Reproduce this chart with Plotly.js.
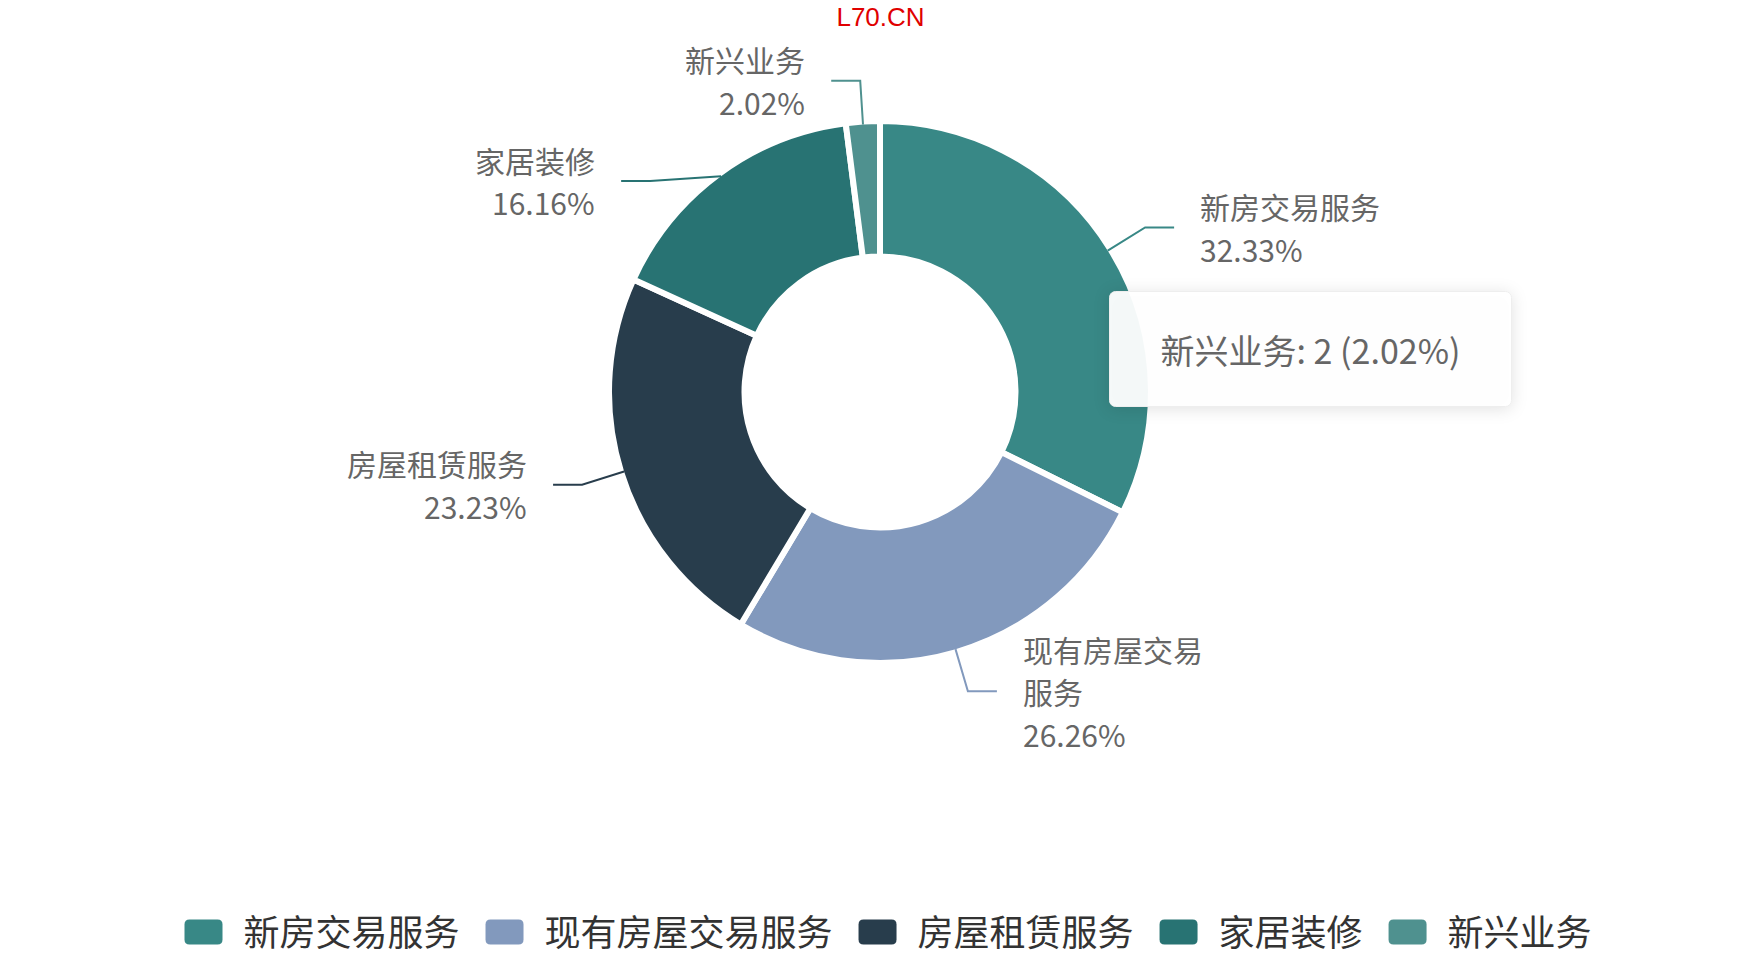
<!DOCTYPE html>
<html>
<head>
<meta charset="utf-8">
<script src="https://cdn.plot.ly/plotly-3.0.1.min.js"></script>
<style>
  html, body { margin: 0; padding: 0; background: #ffffff; }
  #chart { width: 1761px; height: 966px; }
</style>
</head>
<body>
<div id="chart"></div>
<script>
// ---- data ----
const categories = ['新房交易服务', '现有房屋交易服务', '房屋租赁服务', '家居装修', '新兴业务'];
const values = [32, 26, 23, 16, 2];
const colors = ['#388886', '#8299bd', '#283d4c', '#287373', '#4f918f'];
const titleText = 'L70.CN';
const tooltipIndex = 4;

// ---- layout constants ----
const W = 1761, H = 966;
const CX = 880, CY = 392;          // pie centre (px)
const R = 271;                      // pie radius incl. white border
const VIS_R = 268;                  // visible outer radius
const L1 = 44, L2 = 29, GAP = 24;   // leader line lengths / text gap
const LINEH = 42.7, PAD = 15, FS = 30;
const MAXCH = 6;

// percentages with largest-remainder rounding (sum = 100%)
function percents(vals, precision) {
  const sum = vals.reduce((a, b) => a + b, 0);
  const digits = Math.pow(10, precision);
  const quotas = vals.map(v => v / sum * digits * 100);
  const seats = quotas.map(q => Math.floor(q));
  let cur = seats.reduce((a, b) => a + b, 0);
  const rem = quotas.map((q, i) => q - seats[i]);
  while (cur < digits * 100) {
    let mi = 0;
    for (let i = 1; i < rem.length; i++) if (rem[i] > rem[mi]) mi = i;
    seats[mi]++; rem[mi] = 0; cur++;
  }
  return seats.map(s => (s / digits).toFixed(precision));
}
const pcts = percents(values, 2);

function wrap(s, n) {
  const out = [];
  for (let i = 0; i < s.length; i += n) out.push(s.slice(i, i + n));
  return out;
}

const px2x = px => px / W;
const py2y = py => 1 - py / H;

// label geometry computed from data
const total = values.reduce((a, b) => a + b, 0);
let cum = 0;
const labels = values.map((v, i) => {
  const mid = (cum + v / 2) / total * 2 * Math.PI;
  cum += v;
  const s = Math.sin(mid), c = Math.cos(mid);
  const lines = wrap(categories[i], MAXCH).concat([pcts[i] + '%']);
  return {
    i, s, c,
    ax: CX + VIS_R * s, ay: CY - VIS_R * c,
    ex: CX + (VIS_R + L1) * s, ey: CY - (VIS_R + L1) * c,
    right: s >= 0,
    lines, h: lines.length * LINEH
  };
});

// simple overlap avoidance per side
[true, false].forEach(side => {
  const grp = labels.filter(l => l.right === side).sort((a, b) => a.ey - b.ey);
  const r1 = VIS_R + L1;
  for (let k = 1; k < grp.length; k++) {
    const minGap = (grp[k - 1].h + grp[k].h) / 2 + PAD;
    if (grp[k].ey < grp[k - 1].ey + minGap) {
      grp[k].ey = grp[k - 1].ey + minGap;
      const dy = grp[k].ey - CY;
      if (Math.abs(dy) < r1) {
        const dx = Math.sqrt(r1 * r1 - dy * dy);
        grp[k].ex = side ? CX + dx : CX - dx;
      }
    }
  }
});

const shapes = [];
const annotations = [];
labels.forEach(l => {
  const hx = l.right ? l.ex + L2 : l.ex - L2;
  shapes.push({
    type: 'path', xref: 'paper', yref: 'paper',
    path: `M ${px2x(l.ax)},${py2y(l.ay)} L ${px2x(l.ex)},${py2y(l.ey)} L ${px2x(hx)},${py2y(l.ey)}`,
    line: { color: colors[l.i], width: 2 }
  });
  const tx = l.right ? hx + GAP : hx - GAP;
  l.lines.forEach((t, j) => {
    const ty = l.ey + (j - (l.lines.length - 1) / 2) * LINEH;
    annotations.push({
      xref: 'paper', yref: 'paper', x: px2x(tx), y: py2y(ty),
      xanchor: l.right ? 'left' : 'right', yanchor: 'middle',
      text: t, showarrow: false,
      font: { family: 'Noto Sans CJK SC, Noto Sans, sans-serif', size: FS, color: '#666666' }
    });
  });
});

// static tooltip
annotations.push({
  xref: 'paper', yref: 'paper', x: px2x(1310.5), y: py2y(349),
  xanchor: 'center', yanchor: 'middle',
  text: `${categories[tooltipIndex]}: ${values[tooltipIndex]} (${pcts[tooltipIndex]}%)`,
  showarrow: false, align: 'center',
  width: 399, height: 112, borderpad: 1,
  bgcolor: 'rgba(255,255,255,0.95)', bordercolor: '#eeeeee', borderwidth: 1,
  font: { family: 'Noto Sans CJK SC, Noto Sans, sans-serif', size: 34, color: '#666666' }
});

const trace = {
  type: 'pie',
  labels: categories,
  values: values,
  sort: false,
  direction: 'clockwise',
  rotation: 0,
  hole: 0.5,
  textinfo: 'none',
  hoverinfo: 'none',
  marker: { colors: colors, line: { color: '#ffffff', width: 6 } },
  domain: {
    x: [px2x(CX - R), px2x(CX + R)],
    y: [1 - (CY + R) / H, 1 - (CY - R) / H]
  }
};

const layout = {
  width: W, height: H,
  margin: { l: 0, r: 0, t: 0, b: 0 },
  paper_bgcolor: '#ffffff',
  title: {
    text: titleText,
    font: { family: 'Liberation Sans, Arial, sans-serif', size: 26, color: '#e00000' },
    x: 0.5, xanchor: 'center', xref: 'paper',
    y: 1 - 17 / H, yanchor: 'middle', yref: 'container'
  },
  showlegend: true,
  legend: {
    orientation: 'h', x: 0.5, xanchor: 'center', y: 34 / H, yanchor: 'middle',
    itemwidth: 70,
    font: { family: 'Noto Sans CJK SC, Noto Sans, sans-serif', size: 36, color: '#333333' },
    itemclick: false, itemdoubleclick: false
  },
  shapes: shapes,
  annotations: annotations
};

Plotly.newPlot('chart', [trace], layout, { displayModeBar: false, staticPlot: true }).then(gd => {
  // enlarge legend swatches to rounded rectangles
  const w = 38, h = 25, r = 5;
  const d = `M${-w/2 + r},${-h/2} H${w/2 - r} Q${w/2},${-h/2} ${w/2},${-h/2 + r} V${h/2 - r} Q${w/2},${h/2} ${w/2 - r},${h/2} H${-w/2 + r} Q${-w/2},${h/2} ${-w/2},${h/2 - r} V${-h/2 + r} Q${-w/2},${-h/2} ${-w/2 + r},${-h/2} Z`;
  gd.querySelectorAll('.legend .legendpoints path').forEach(p => {
    p.setAttribute('d', d);
    p.style.strokeWidth = '0px';
  });
  // soft shadow + rounded corners for the tooltip box
  const ann = gd.querySelectorAll('.annotation');
  const tip = ann[ann.length - 1];
  if (tip) {
    const bg = tip.querySelector('rect.bg');
    if (bg) {
      bg.setAttribute('rx', 6);
      bg.setAttribute('ry', 6);
      bg.style.filter = 'drop-shadow(0px 2px 8px rgba(0,0,0,0.12))';
    }
  }
});
</script>
</body>
</html>
